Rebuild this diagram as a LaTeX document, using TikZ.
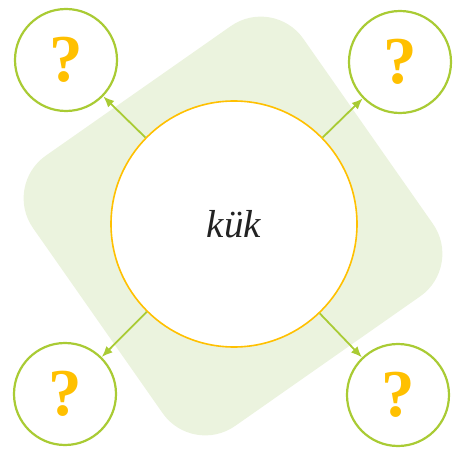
\documentclass[tikz,border=0pt]{standalone}
\usepackage{fontspec}
\setmainfont{Liberation Serif}
\usetikzlibrary{arrows.meta}
\definecolor{lgreen}{HTML}{A9CB34}
\definecolor{bggreen}{HTML}{EBF3DE}
\definecolor{gold}{HTML}{FFC000}
\definecolor{txt}{HTML}{222222}
\tikzset{
  outer/.style={circle, draw=lgreen, line width=2.2pt, minimum size=102pt, inner sep=0pt, fill=white,
    text=gold, font=\fontsize{67}{67}\selectfont\bfseries},
  center/.style={circle, draw=gold, line width=1.6pt, minimum size=246pt, inner sep=0pt, fill=white,
    text=txt, font=\fontsize{39}{39}\selectfont\itshape},
  conn/.style={draw=lgreen, line width=1.8pt, -{Latex[length=11pt,width=9pt]}}
}
\begin{document}
\begin{tikzpicture}[x=1pt,y=-1pt]
\useasboundingbox (0,0) rectangle (455,449);
\begin{scope}[shift={(233,226)}, rotate=35]
  \fill[bggreen, rounded corners=52pt] (-165,-165) rectangle (165,165);
\end{scope}
\node[center] (c) at (234,224) {kük};
\node[outer] (tl) at (66,60) {?};
\node[outer] (tr) at (400,62) {?};
\node[outer] (bl) at (65,394) {?};
\node[outer] (br) at (398,395) {?};
\draw[conn] (c) -- (tl);
\draw[conn] (c) -- (tr);
\draw[conn] (c) -- (bl);
\draw[conn] (c) -- (br);
\end{tikzpicture}
\end{document}
